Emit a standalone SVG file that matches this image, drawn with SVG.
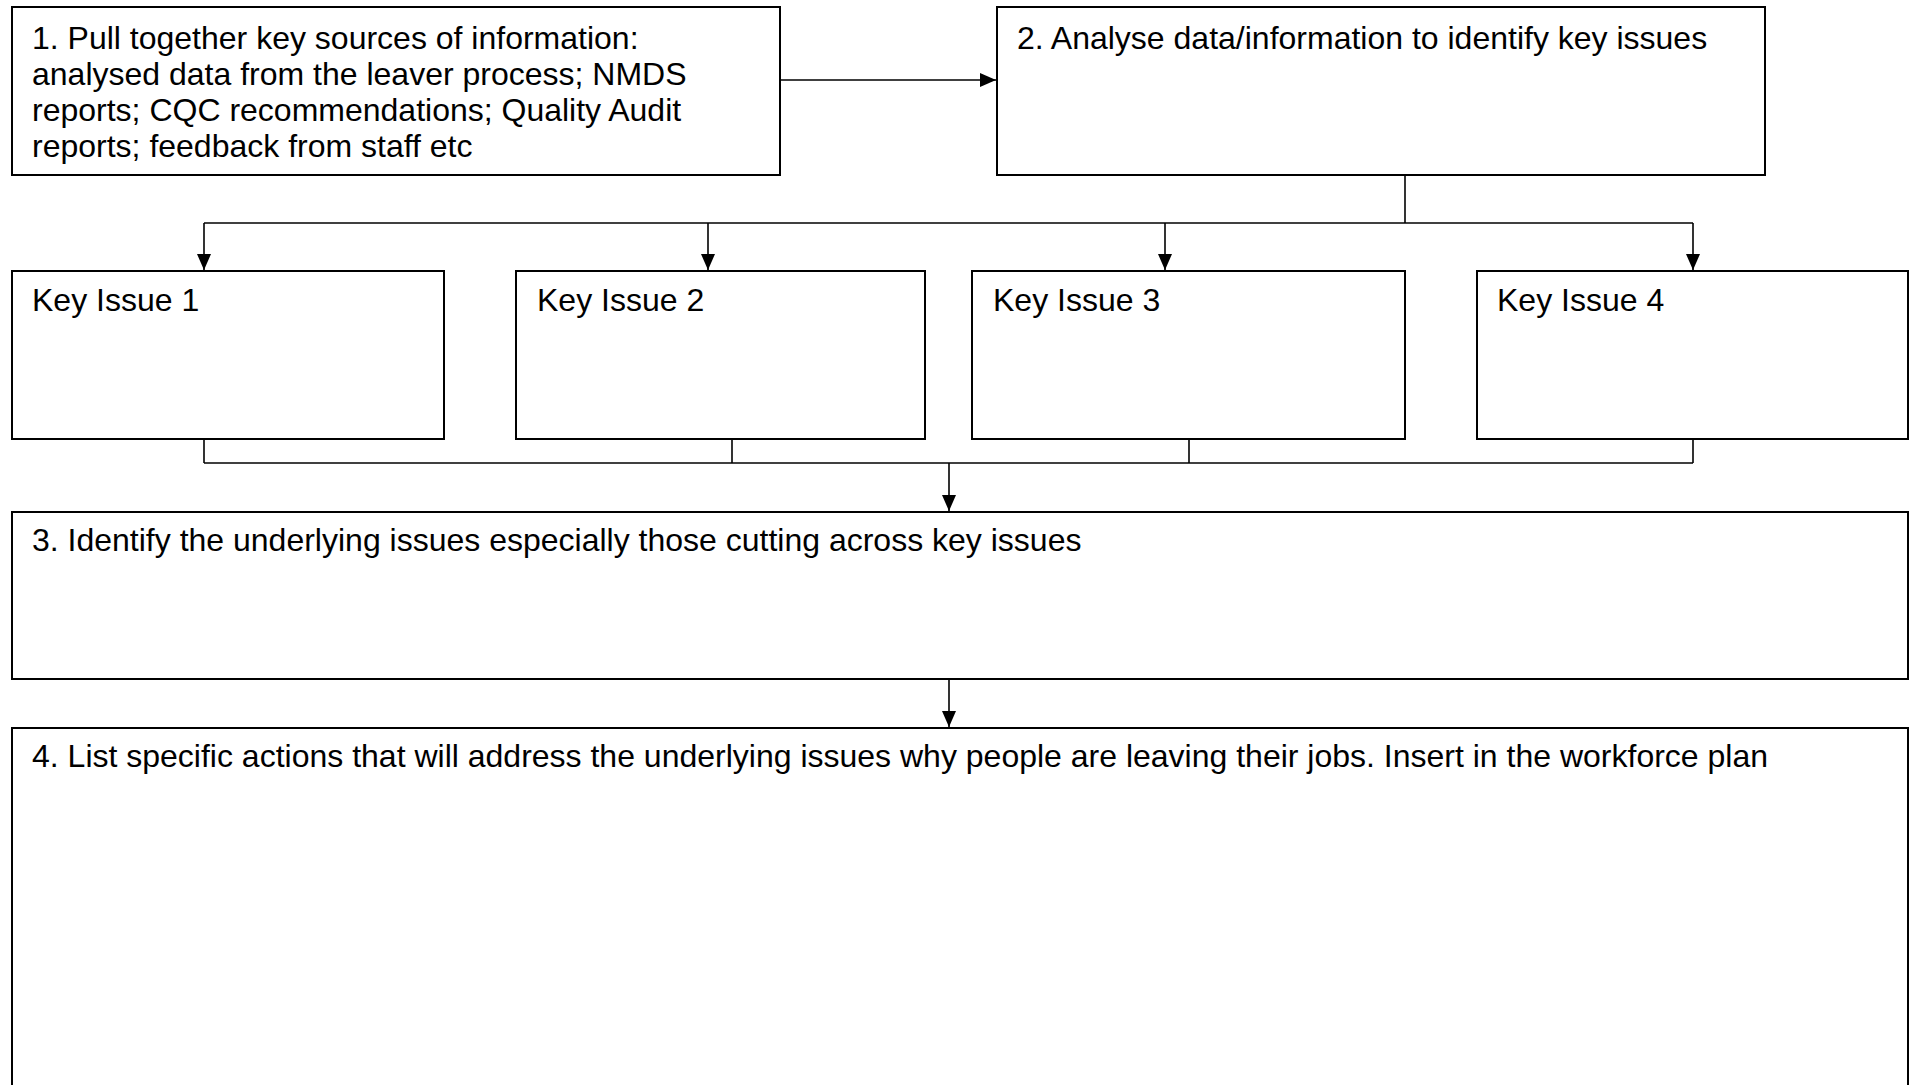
<svg xmlns="http://www.w3.org/2000/svg" width="1912" height="1085" viewBox="0 0 1912 1085">
<style>
.box{fill:#fff;stroke:#000;stroke-width:2}
.t{font-family:"Liberation Sans",Arial,sans-serif;font-size:32px;fill:#000}
.c{fill:none;stroke:#000;stroke-width:1.6}
</style>
<defs>
<marker id="ah" viewBox="0 0 16 14" refX="16" refY="7" markerWidth="16" markerHeight="14" markerUnits="userSpaceOnUse" orient="auto">
<path d="M0,0 L16,7 L0,14 Z" fill="#000"/>
</marker>
</defs>
<rect width="1912" height="1085" fill="#fff"/>
<g id="connectors">
<line class="c" x1="780" y1="80" x2="996" y2="80" marker-end="url(#ah)"/>
<line class="c" x1="1405" y1="175" x2="1405" y2="223"/>
<line class="c" x1="204" y1="223" x2="1693" y2="223"/>
<line class="c" x1="204" y1="223" x2="204" y2="270" marker-end="url(#ah)"/>
<line class="c" x1="708" y1="223" x2="708" y2="270" marker-end="url(#ah)"/>
<line class="c" x1="1165" y1="223" x2="1165" y2="270" marker-end="url(#ah)"/>
<line class="c" x1="1693" y1="223" x2="1693" y2="270" marker-end="url(#ah)"/>
<line class="c" x1="204" y1="439" x2="204" y2="463"/>
<line class="c" x1="732" y1="439" x2="732" y2="463"/>
<line class="c" x1="1189" y1="439" x2="1189" y2="463"/>
<line class="c" x1="1693" y1="439" x2="1693" y2="463"/>
<line class="c" x1="204" y1="463" x2="1693" y2="463"/>
<line class="c" x1="949" y1="463" x2="949" y2="511" marker-end="url(#ah)"/>
<line class="c" x1="949" y1="679" x2="949" y2="727" marker-end="url(#ah)"/>
</g>
<g id="node1">
<rect class="box" x="12" y="7" width="768" height="168"/>
<text class="t" x="32" y="49">1. Pull together key sources of information:</text>
<text class="t" x="32" y="85">analysed data from the leaver process; NMDS</text>
<text class="t" x="32" y="121">reports; CQC recommendations; Quality Audit</text>
<text class="t" x="32" y="157">reports; feedback from staff etc</text>
</g>
<g id="node2">
<rect class="box" x="997" y="7" width="768" height="168"/>
<text class="t" x="1017" y="49">2. Analyse data/information to identify key issues</text>
</g>
<g id="key1">
<rect class="box" x="12" y="271" width="432" height="168"/>
<text class="t" x="32" y="311">Key Issue 1</text>
</g>
<g id="key2">
<rect class="box" x="516" y="271" width="409" height="168"/>
<text class="t" x="537" y="311">Key Issue 2</text>
</g>
<g id="key3">
<rect class="box" x="972" y="271" width="433" height="168"/>
<text class="t" x="993" y="311">Key Issue 3</text>
</g>
<g id="key4">
<rect class="box" x="1477" y="271" width="431" height="168"/>
<text class="t" x="1497" y="311">Key Issue 4</text>
</g>
<g id="node3">
<rect class="box" x="12" y="512" width="1896" height="167"/>
<text class="t" x="32" y="551">3. Identify the underlying issues especially those cutting across key issues</text>
</g>
<g id="node4">
<rect class="box" x="12" y="728" width="1896" height="370"/>
<text class="t" x="32" y="767">4. List specific actions that will address the underlying issues why people are leaving their jobs. Insert in the workforce plan</text>
</g>
</svg>
